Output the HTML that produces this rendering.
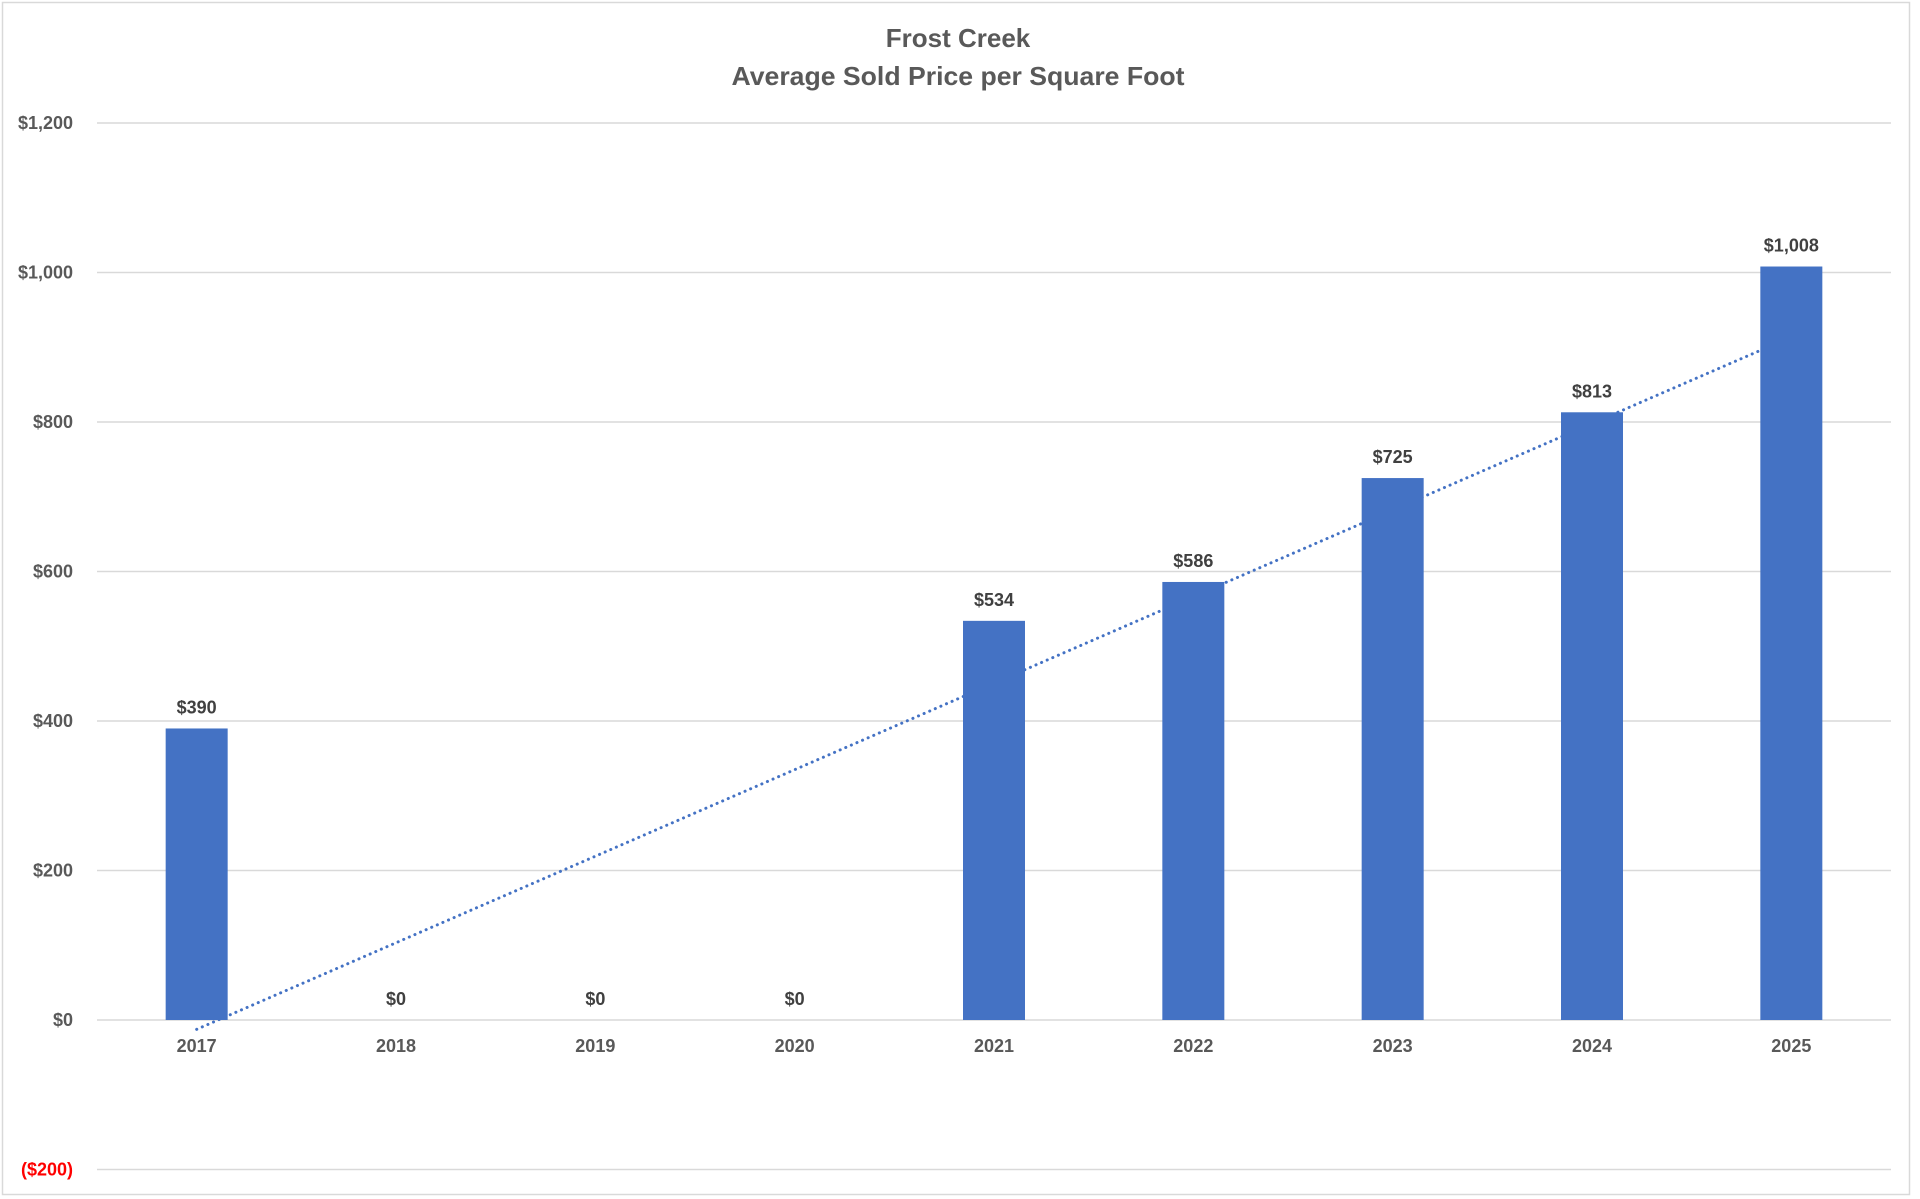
<!DOCTYPE html>
<html><head><meta charset="utf-8"><style>
html,body{margin:0;padding:0;background:#fff;}
svg{display:block;font-family:"Liberation Sans",sans-serif;font-weight:bold;}
</style></head><body>
<svg id="chart" width="1920" height="1199" viewBox="0 0 1920 1199" xmlns="http://www.w3.org/2000/svg">
<rect x="2.5" y="2.5" width="1907" height="1192" fill="#fff" stroke="#d9d9d9" stroke-width="1.5"/>
<text x="958" y="47" text-anchor="middle" font-size="26" fill="#595959">Frost Creek</text>
<text x="958" y="85" text-anchor="middle" font-size="26" fill="#595959" textLength="453" lengthAdjust="spacingAndGlyphs">Average Sold Price per Square Foot</text>
<g id="grid"></g><g id="yticks"></g><g id="trend"></g><g id="bars"></g><g id="labels"></g><g id="xticks"></g>
</svg>
<script>
const categories = ["2017","2018","2019","2020","2021","2022","2023","2024","2025"];
const values = [390,0,0,0,534,586,725,813,1008];
const dataLabels = ["$390","$0","$0","$0","$534","$586","$725","$813","$1,008"];
const yTickValues = [-200,0,200,400,600,800,1000,1200];
const yTickLabels = ["($200)","$0","$200","$400","$600","$800","$1,000","$1,200"];

const NS="http://www.w3.org/2000/svg";
const plotL=97, plotR=1891;
const band=(plotR-plotL)/categories.length;
function xC(i){return plotL+band*(i+0.5);}
function y(v){return 1020 - v*(1020-123)/1200;}
function mk(tag,attrs,parent,text){const e=document.createElementNS(NS,tag);for(const k in attrs)e.setAttribute(k,attrs[k]);if(text!==undefined)e.textContent=text;document.getElementById(parent).appendChild(e);return e;}

yTickValues.forEach((v,i)=>{
  const g=mk('line',{x1:plotL,x2:plotR,y1:y(v),y2:y(v),stroke:'#d9d9d9','stroke-width':1.5},'grid');
  
  
  const t=mk('text',{x:73,y:y(v)+6,'text-anchor':'end','font-size':18,fill:v<0?'#ff0000':'#595959'},'yticks',yTickLabels[i]);
  
  
});

const n=values.length;let sx=0,sy=0,sxy=0,sxx=0;
values.forEach((v,i)=>{const x=i+1;sx+=x;sy+=v;sxy+=x*v;sxx+=x*x;});
const slope=(n*sxy-sx*sy)/(n*sxx-sx*sx), icpt=(sy-slope*sx)/n;
const tl=mk('line',{x1:xC(0),y1:y(icpt+slope*1),x2:xC(n-1),y2:y(icpt+slope*n),stroke:'#4472C4','stroke-width':3,'stroke-dasharray':'0.1 6','stroke-linecap':'round'},'trend');



const bw=62;
values.forEach((v,i)=>{
  const top=y(Math.max(v,0)), h=Math.abs(y(v)-y(0));
  const b=mk('rect',{x:xC(i)-bw/2,y:top,width:bw,height:h,fill:'#4472C4'},'bars');
  
  
  const l=mk('text',{x:xC(i),y:top-15,'text-anchor':'middle','font-size':18,fill:'#404040'},'labels',dataLabels[i]);
  
  
  const c=mk('text',{x:xC(i),y:1052,'text-anchor':'middle','font-size':18,fill:'#595959'},'xticks',categories[i]);
  
  
});
</script>
</body></html>
